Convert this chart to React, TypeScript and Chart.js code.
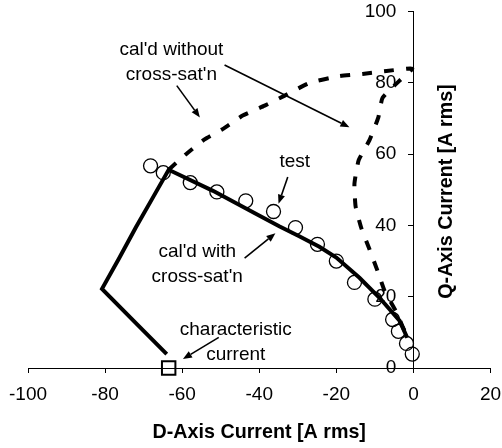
import React, { useEffect, useRef } from "react";
import { Chart, registerables } from "chart.js";

Chart.register(...registerables);

// Measured test points (open circles)
const testD = [-68.2, -64.9, -57.9, -51.0, -43.5, -36.3, -30.6, -24.9, -20.0, -15.3, -10.0, -5.4, -3.9, -1.8, -0.3];
const testQ = [56.7, 54.8, 52.0, 49.4, 46.9, 43.9, 39.4, 34.7, 30.0, 24.0, 19.3, 13.6, 10.3, 6.9, 3.9];

// Calculated locus including cross-saturation (solid)
const withD = [-64.0, -72.2, -80.8, -76.5, -72.0, -67.5, -63.5, -52.0, -41.5, -34.7, -29.5, -24.4, -20.0, -14.0, -8.8, -3.6, -1.6];
const withQ = [3.9, 12.8, 22.2, 30.5, 39.5, 48.0, 55.6, 49.7, 43.6, 39.7, 36.9, 34.0, 31.0, 25.3, 19.7, 13.3, 8.5];

// Calculated locus without cross-saturation (dashed)
const withoutD = [-63.5, -59.3, -54.1, -49.5, -44.3, -38.6, -33.4, -26.9, -19.2, -13.2, -7.0, -0.3, -3.6, -8.0, -9.1, -11.4, -14.2, -15.3, -15.0, -13.5, -11.4, -9.3, -7.5, -4.4, -1.6];
const withoutQ = [55.6, 59.7, 64.2, 67.0, 70.8, 73.6, 76.4, 80.0, 81.9, 82.5, 83.3, 84.0, 80.6, 75.8, 70.3, 63.9, 58.3, 51.7, 45.3, 39.2, 33.3, 27.2, 21.7, 15.6, 8.5];

// Characteristic current (square)
const charD = [-63.5];
const charQ = [0];

const xTicks = [-100, -80, -60, -40, -20, 0, 20];
const yTicks = [0, 20, 40, 60, 80, 100];

const xTitle = "D-Axis Current [A rms]";
const yTitle = "Q-Axis Current [A rms]";

// Callout labels, anchored in data units (centre of the first line)
const notes = [
  { lines: ["cal'd without", "cross-sat'n"], d: -62.8, q: 89.2 },
  { lines: ["test"], d: -30.8, q: 57.8 },
  { lines: ["cal'd with", "cross-sat'n"], d: -56.1, q: 32.5 },
  { lines: ["characteristic", "current"], d: -46.1, q: 10.6 },
];

// Callout arrows in data units
const arrows = [
  { d1: -61.4, q1: 79.2, d2: -55.4, q2: 70.3 },
  { d1: -49.0, q1: 85.0, d2: -16.6, q2: 67.5 },
  { d1: -32.6, q1: 53.6, d2: -35.0, q2: 46.1 },
  { d1: -43.8, q1: 30.8, d2: -35.8, q2: 37.8 },
  { d1: -50.5, q1: 8.6, d2: -59.8, q2: 2.5 },
];

const FONT = "'Liberation Sans', Arial, sans-serif";
const Y_LABEL_GAP = 17;

const toXY = (xs: number[], ys: number[]) => xs.map((x, i) => ({ x, y: ys[i] }));

const calloutPlugin = {
  id: "callouts",
  beforeDraw(chart: any) {
    // keep the Q-axis numbers clear of the axis line it is centred on
    const items = chart.scales.y.getLabelItems();
    for (const it of items) {
      if (!it.__shifted) {
        it.options.translation[0] -= Y_LABEL_GAP;
        it.__shifted = true;
      }
    }
  },
  afterDraw(chart: any) {
    const { ctx, scales } = chart;
    const xs = scales.x;
    const ys = scales.y;
    ctx.save();
    ctx.fillStyle = "#000";
    ctx.strokeStyle = "#000";
    ctx.font = `19px ${FONT}`;
    ctx.textAlign = "center";
    ctx.textBaseline = "middle";
    for (const n of notes) {
      const px = xs.getPixelForValue(n.d);
      const py = ys.getPixelForValue(n.q);
      n.lines.forEach((t, i) => ctx.fillText(t, px, py + i * 24.5));
    }
    for (const a of arrows) {
      const x1 = xs.getPixelForValue(a.d1);
      const y1 = ys.getPixelForValue(a.q1);
      const x2 = xs.getPixelForValue(a.d2);
      const y2 = ys.getPixelForValue(a.q2);
      const ang = Math.atan2(y2 - y1, x2 - x1);
      const head = 9;
      const half = 3.6;
      const bx = x2 - head * Math.cos(ang);
      const by = y2 - head * Math.sin(ang);
      ctx.lineWidth = 1.6;
      ctx.beginPath();
      ctx.moveTo(x1, y1);
      ctx.lineTo(bx, by);
      ctx.stroke();
      ctx.beginPath();
      ctx.moveTo(x2, y2);
      ctx.lineTo(bx + half * Math.sin(ang), by - half * Math.cos(ang));
      ctx.lineTo(bx - half * Math.sin(ang), by + half * Math.cos(ang));
      ctx.closePath();
      ctx.fill();
    }
    // vertical axis title, reading upward, right of the Q axis
    ctx.font = `bold 19.7px ${FONT}`;
    ctx.translate(xs.getPixelForValue(8.5), ys.getPixelForValue(49.5));
    ctx.rotate(-Math.PI / 2);
    ctx.fillText(yTitle, 0, 0);
    ctx.restore();
  },
};

export default function App() {
  const ref = useRef<HTMLCanvasElement | null>(null);

  useEffect(() => {
    if (!ref.current) return;
    Chart.defaults.font.family = FONT;
    Chart.defaults.color = "#000";
    const chart = new Chart(ref.current, {
      type: "scatter",
      data: {
        datasets: [
          {
            label: "test",
            data: toXY(testD, testQ),
            showLine: false,
            pointStyle: "circle",
            pointRadius: 7,
            pointBorderWidth: 1.3,
            pointBorderColor: "#000",
            pointBackgroundColor: "rgba(0,0,0,0)",
            clip: false,
          },
          {
            label: "cal'd with cross-sat'n",
            data: toXY(withD, withQ),
            showLine: true,
            borderColor: "#000",
            borderWidth: 4,
            pointRadius: 0,
            tension: 0,
            clip: false,
          },
          {
            label: "cal'd without cross-sat'n",
            data: toXY(withoutD, withoutQ),
            showLine: true,
            borderColor: "#000",
            borderWidth: 4,
            borderDash: [10, 12],
            pointRadius: 0,
            tension: 0.15,
            clip: false,
          },
          {
            label: "characteristic current",
            data: toXY(charD, charQ),
            showLine: false,
            pointStyle: "rect",
            pointRadius: 9.5,
            pointBorderWidth: 2,
            pointBorderColor: "#000",
            pointBackgroundColor: "rgba(0,0,0,0)",
            clip: false,
          },
        ],
      },
      options: {
        responsive: false,
        animation: false,
        layout: { padding: { left: 28, right: 11, top: 8, bottom: 0 } },
        plugins: {
          legend: { display: false },
          tooltip: { enabled: false },
        },
        scales: {
          x: {
            type: "linear",
            min: -100,
            max: 20,
            afterBuildTicks: (s: any) => {
              s.ticks = xTicks.map((v) => ({ value: v }));
            },
            afterFit: (s: any) => {
              s.height = 80;
            },
            ticks: {
              font: { size: 19, lineHeight: 2.3 },
              color: "#000",
              padding: 0,
              maxRotation: 0,
              autoSkip: false,
            },
            grid: {
              drawOnChartArea: false,
              drawTicks: true,
              tickLength: 5,
              color: "#000",
            },
            border: { display: true, color: "#000", width: 1 },
            title: {
              display: true,
              text: xTitle,
              color: "#000",
              font: { size: 19.7, weight: "bold" },
              padding: { top: 4, bottom: 4 },
            },
          },
          y: {
            type: "linear",
            min: 0,
            max: 100,
            position: { x: 0 },
            afterBuildTicks: (s: any) => {
              s.ticks = yTicks.map((v) => ({ value: v }));
            },
            ticks: {
              font: { size: 19, lineHeight: 0.8 },
              color: "#000",
              padding: 0,
            },
            grid: {
              drawOnChartArea: false,
              drawTicks: true,
              tickLength: 5,
              color: "#000",
            },
            border: { display: true, color: "#000", width: 1 },
          },
        },
      },
      plugins: [calloutPlugin],
    } as any);
    return () => chart.destroy();
  }, []);

  return (
    <div style={{ position: "absolute", left: 0, top: 0, width: 502, height: 448, background: "#fff" }}>
      <canvas ref={ref} width={502} height={448} style={{ display: "block" }} />
    </div>
  );
}
